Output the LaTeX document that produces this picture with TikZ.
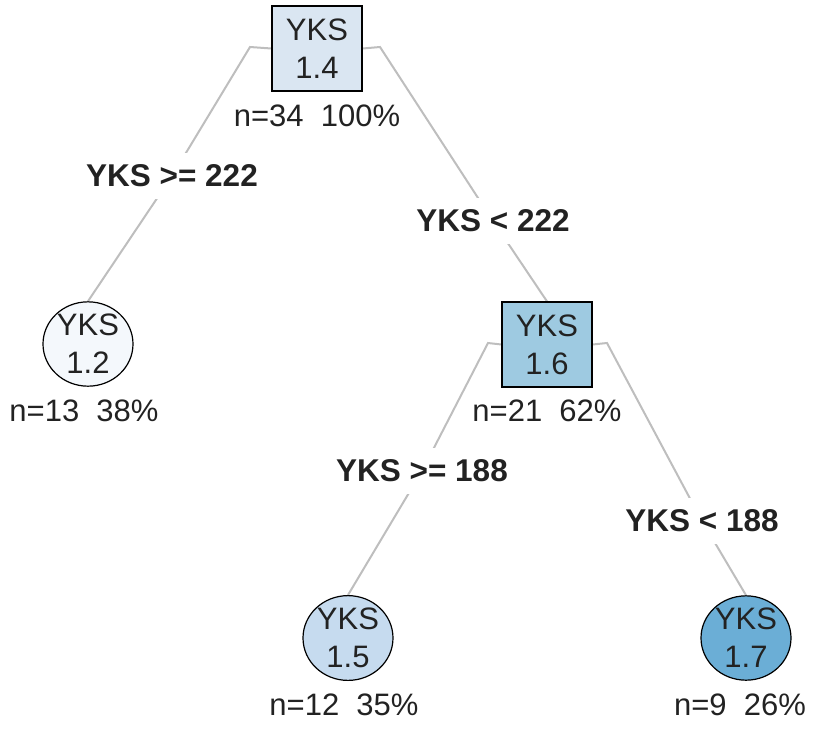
\documentclass[tikz,border=0pt]{standalone}
\usepackage{fontspec}
\setmainfont{Liberation Sans}
\usetikzlibrary{shapes.geometric,backgrounds}
\definecolor{c12}{RGB}{244,248,252}
\definecolor{c14}{RGB}{218,230,242}
\definecolor{c15}{RGB}{198,219,239}
\definecolor{c16}{RGB}{158,202,225}
\definecolor{c17}{RGB}{107,174,214}
\definecolor{txt}{RGB}{34,34,34}
\definecolor{edge}{RGB}{190,190,190}
\tikzset{
  every node/.style={text=txt, font=\fontsize{31}{38}\selectfont},
  splitbox/.style={draw=black, line width=1.2pt, minimum width=90pt, minimum height=85pt, inner sep=0pt, align=center},
  leafnode/.style={ellipse, draw=black, line width=1.2pt, minimum width=90pt, minimum height=82pt, inner sep=0pt, align=center},
  info/.style={inner sep=0pt},
  rule/.style={fill=white, inner xsep=4pt, inner ysep=12pt, font=\bfseries\fontsize{31.5}{36}\selectfont},
  conn/.style={draw=edge, line width=2pt}
}
\begin{document}
\begin{tikzpicture}[x=1pt,y=-1pt]
\useasboundingbox (0,0) rectangle (814,729);
% nodes
\node[splitbox, fill=c14] (r) at (317,48.5) {YKS\\1.4};
\node[info] (rn) at (317,116) {n=34\ \ 100\%};
\node[leafnode, fill=c12] (a) at (88,344) {YKS\\1.2};
\node[info] (an) at (84,411) {n=13\ \ 38\%};
\node[splitbox, fill=c16] (b) at (547,344.5) {YKS\\1.6};
\node[info] (bn) at (547,411) {n=21\ \ 62\%};
\node[leafnode, fill=c15] (c) at (348,638) {YKS\\1.5};
\node[info] (cn) at (344,705) {n=12\ \ 35\%};
\node[leafnode, fill=c17] (d) at (746,638) {YKS\\1.7};
\node[info] (dn) at (740,705) {n=9\ \ 26\%};
% split labels
\node[rule] (la) at (172,176) {YKS >= 222};
\node[rule] (lb) at (493,221) {YKS < 222};
\node[rule] (lc) at (422,471) {YKS >= 188};
\node[rule] (ld) at (702,521) {YKS < 188};
% bends
\coordinate (ra) at (250,47);
\coordinate (rb) at (380,47);
\coordinate (ba) at (488,343);
\coordinate (bb) at (607,343);
\begin{scope}[on background layer]
\draw[conn] (r.west) -- (ra) -- (la.center) -- (a.north);
\draw[conn] (r.east) -- (rb) -- (lb.center) -- (b.north);
\draw[conn] (b.west) -- (ba) -- (lc.center) -- (c.north);
\draw[conn] (b.east) -- (bb) -- (ld.center) -- (d.north);
\end{scope}
\end{tikzpicture}
\end{document}
